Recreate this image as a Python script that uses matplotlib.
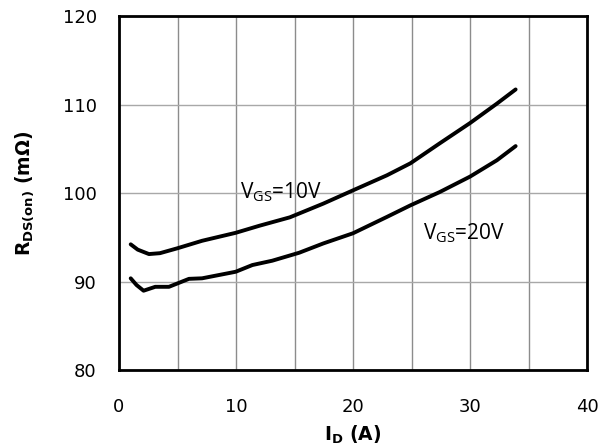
import matplotlib
matplotlib.use("Agg")
import matplotlib.pyplot as plt

# Data
id_10v = [1.0, 1.6, 2.56, 3.5, 4.98, 7.1, 9.97, 12.0, 14.6, 17.46, 20.0, 22.9, 24.9, 27.4, 30.0, 32.3, 33.9]
r_10v = [94.2, 93.6, 93.1, 93.2, 93.75, 94.6, 95.5, 96.3, 97.25, 98.8, 100.3, 102.0, 103.35, 105.6, 107.9, 110.1, 111.7]

id_20v = [1.0, 1.5, 2.1, 3.1, 4.27, 5.98, 7.1, 9.97, 11.4, 13.1, 15.4, 17.46, 20.0, 22.9, 24.9, 27.4, 30.0, 32.3, 33.9]
r_20v = [90.36, 89.6, 88.96, 89.4, 89.4, 90.3, 90.36, 91.1, 91.86, 92.35, 93.25, 94.3, 95.45, 97.3, 98.6, 100.1, 101.85, 103.7, 105.3]

x_ticks = [0, 10, 20, 30, 40]
y_ticks = [80, 90, 100, 110, 120]

fig = plt.figure(figsize=(6.0, 4.48), dpi=100)
ax = fig.add_axes([119/600, 1 - 370/448, (587-119)/600, (370-16)/448])

ax.plot(id_10v, r_10v, color="black", lw=2.8, solid_capstyle="round")
ax.plot(id_20v, r_20v, color="black", lw=2.8, solid_capstyle="round")

ax.set_xlim(0, 40)
ax.set_ylim(80, 120)
ax.set_xticks(x_ticks)
ax.set_yticks(y_ticks)
ax.set_xticks([5, 15, 25, 35], minor=True)
ax.grid(True, which="both", axis="x", color="#8c8c8c", lw=1.0)
ax.grid(True, which="major", axis="y", color="#a8a8a8", lw=1.0)
ax.tick_params(which="both", length=0, labelsize=13)
ax.tick_params(axis="x", pad=20)
ax.tick_params(axis="y", pad=16)
for s in ax.spines.values():
    s.set_linewidth(2.0)
    s.set_color("black")

ax.set_xlabel(r"$\mathbf{I_D}$ (A)", fontsize=13.5, fontweight="bold", labelpad=6)
ax.set_ylabel(r"$\mathbf{R_{DS(on)}}$ (m$\mathbf{\Omega}$)", fontsize=13.5, fontweight="bold", labelpad=19)

ax.text(10.3, 100.1, r"V$_{\mathregular{GS}}$=10V", fontsize=15, family="Open Sans", va="center", ha="left")
ax.text(26.0, 95.5, r"V$_{\mathregular{GS}}$=20V", fontsize=15, family="Open Sans", va="center", ha="left")

fig.savefig("out.png", dpi=100)
